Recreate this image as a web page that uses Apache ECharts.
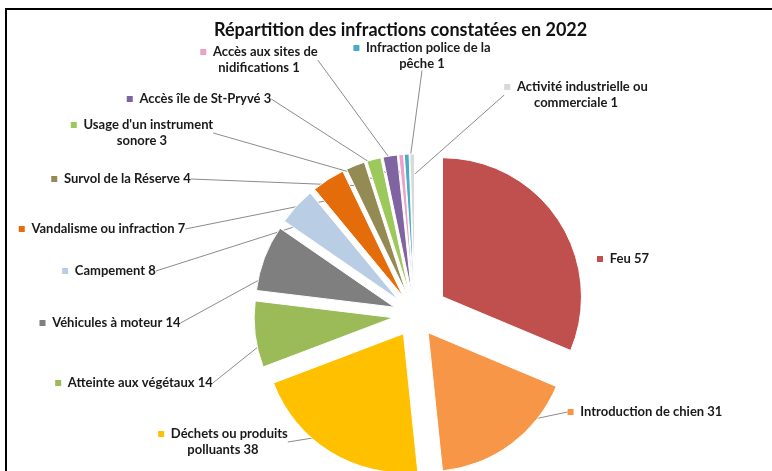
<!DOCTYPE html>
<html>
<head>
<meta charset="utf-8">
<script src="https://cdn.jsdelivr.net/npm/echarts@6/dist/echarts.min.js"></script>
<style>
  html, body { margin: 0; padding: 0; background: #fff; }
  #chart { width: 772px; height: 471px; }
</style>
</head>
<body>
<div id="chart"></div>
<script>
// categories (with the line breaks used in the original labels)
const categories = [
  'Feu',
  'Introduction de chien',
  'Déchets ou produits\npolluants',
  'Atteinte aux végétaux',
  'Véhicules à moteur',
  'Campement',
  'Vandalisme ou infraction',
  'Survol de la Réserve',
  'Usage d\'un instrument\nsonore',
  'Accès île de St-Pryvé',
  'Accès aux sites de\nnidifications',
  'Infraction police de la\npêche',
  'Activité industrielle ou\ncommerciale'
]
const values = [57, 31, 38, 14, 14, 8, 7, 4, 3, 3, 1, 1, 1]
const colors = ['#C0504D', '#F79646', '#FFC000', '#9BBB59', '#7F7F7F', '#B9CDE5', '#E46C0A',
  '#948A54', '#9DC85C', '#8064A2', '#EBA1C8', '#4BACC6', '#D9D9D9']
// where each label block sits (centre x, centre y), as placed in the original
const labelPos = [
  [623, 259], [645, 412], [223, 442], [134, 383], [110, 323], [109, 271], [102, 229],
  [121, 179], [142, 133], [199, 99], [259, 60], [422, 56], [576, 95]
]

const rich = { t: { fontFamily: 'Lato', fontWeight: 'bold', fontSize: 13, color: '#1a1a1a', lineHeight: 16 } }
colors.forEach((c, i) => {
  rich['m' + i] = { width: 6, height: 6, backgroundColor: c }
})

const common = {
  type: 'pie',
  center: [415, 315],
  radius: 139,
  startAngle: 90,
  clockwise: true,
  avoidLabelOverlap: false,
  silent: true,
  animation: false
}

// visible slices, exploded through the selection offset
function slices(show) {
  return values.map((v, i) => ({
    name: categories[i],
    value: v,
    selected: show(i),
    itemStyle: { color: colors[i], opacity: show(i) ? 1 : 0 }
  }))
}

const chart = echarts.init(document.getElementById('chart'))
chart.setOption({
  backgroundColor: '#fff',
  title: {
    text: 'Répartition des infractions constatées en 2022',
    left: 209,
    top: 16,
    textStyle: { fontFamily: 'Lato', fontWeight: 'bold', fontSize: 18, color: '#111' }
  },
  graphic: [{
    type: 'rect',
    shape: { x: 6, y: 9, width: 900, height: 600 },
    style: { fill: 'none', stroke: '#000', lineWidth: 2 }
  }],
  series: [
    // labels and leader lines (slices transparent, drawn under the visible ones)
    Object.assign({}, common, {
      z: 1,
      data: values.map((v, i) => ({
        name: categories[i],
        value: v,
        itemStyle: { color: 'rgba(0,0,0,0)' },
        labelLine: { show: i !== 0 }
      })),
      label: {
        position: 'outside',
        formatter: p => '{m' + p.dataIndex + '|}  {t|' + p.name.replace('\n', '}\n{t|') + ' ' + p.value + '}',
        rich: rich
      },
      labelLine: { show: true, length: 0, length2: 0, lineStyle: { color: '#8c8c8c', width: 1 } },
      labelLayout: p => ({
        x: labelPos[p.dataIndex][0],
        y: labelPos[p.dataIndex][1],
        align: 'center',
        verticalAlign: 'middle'
      })
    }),
    Object.assign({}, common, {
      z: 2, selectedMode: 'multiple', selectedOffset: 22,
      label: { show: false }, labelLine: { show: false },
      itemStyle: { borderColor: '#fff', borderWidth: 1 },
      data: slices(i => i !== 0)
    }),
    Object.assign({}, common, {
      z: 2, selectedMode: 'multiple', selectedOffset: 33,
      label: { show: false }, labelLine: { show: false },
      itemStyle: { borderColor: '#fff', borderWidth: 1 },
      data: slices(i => i === 0)
    })
  ]
})
</script>
</body>
</html>
